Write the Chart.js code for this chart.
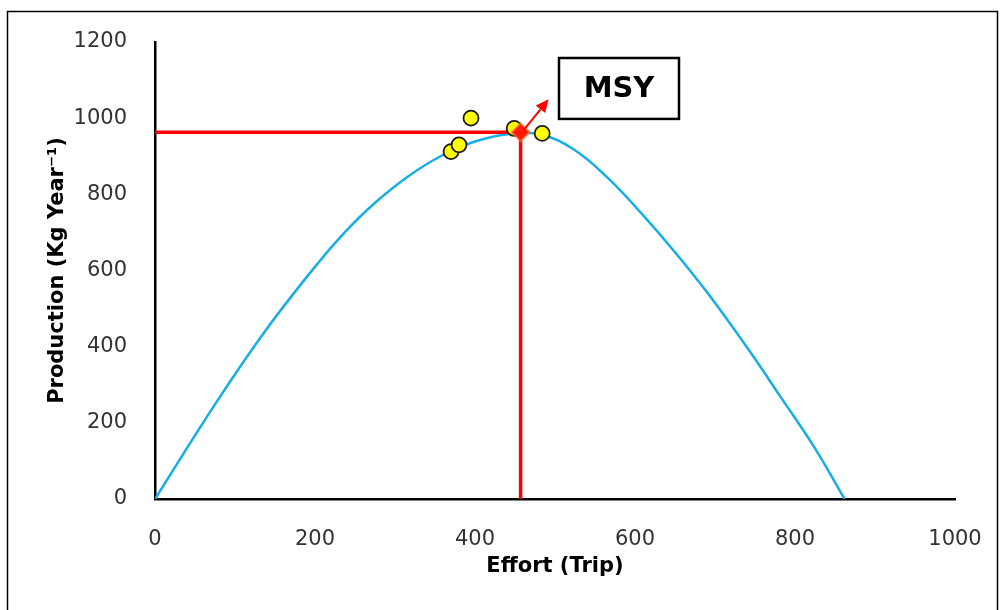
<!DOCTYPE html>
<html>
<head>
<meta charset="utf-8">
<title>MSY - Effort vs Production</title>
<script src="https://cdn.jsdelivr.net/npm/chart.js@4.4.1/dist/chart.umd.min.js"></script>
<style>
  html, body { margin: 0; padding: 0; background: #ffffff; }
  #wrap { width: 1002px; height: 610px; position: relative; }
</style>
</head>
<body>
<div id="wrap"><canvas id="msyChart" width="1002" height="610"></canvas></div>
<script>
// Fitted production curve
const curveEffort = [0, 77, 138, 200, 238, 274, 315, 357, 399, 441, 482, 524, 566, 608, 650, 691, 741, 783, 825, 862];
const curveProduction = [0, 255, 442, 610, 702, 776, 845, 900, 938, 958, 957, 917, 843, 750, 648, 540, 395, 265, 133, 0];

// Observed effort / production points
const obsEffort = [370, 380, 395, 449, 484];
const obsProduction = [912, 930, 1000, 973, 960];

// MSY point and its guide lines
const msyEffort = 457;
const msyProduction = 963;

// MSY label box and arrow (data units)
const msyBox = { x0: 505, x1: 655, y0: 1158, y1: 998, label: "MSY" };
const msyArrow = { fromX: 461, fromY: 969, toX: 492, toY: 1050 };

// Axis ticks
const xTicks = [0, 200, 400, 600, 800, 1000];
const yTicks = [0, 200, 400, 600, 800, 1000, 1200];

const tickFont = { family: "'DejaVu Sans', Verdana, sans-serif", size: 21 };
const titleFont = { family: "'DejaVu Sans', Verdana, sans-serif", size: 21, weight: "bold" };

function toPoints(xs, ys) {
  return xs.map((x, i) => ({ x: x, y: ys[i] }));
}

// Outer frame of the picture
const framePlugin = {
  id: "frame",
  beforeDraw(chart) {
    const ctx = chart.ctx;
    ctx.save();
    ctx.fillStyle = "#ffffff";
    ctx.fillRect(0, 0, chart.width, chart.height);
    ctx.strokeStyle = "#000000";
    ctx.lineWidth = 1.5;
    ctx.strokeRect(7.5, 11.5, chart.width - 12, chart.height + 20);
    ctx.restore();
  },
};

// MSY arrow and label box
const msyPlugin = {
  id: "msyLabel",
  afterDatasetsDraw(chart) {
    const ctx = chart.ctx;
    const xs = chart.scales.x;
    const ys = chart.scales.y;

    // arrow
    const ax0 = xs.getPixelForValue(msyArrow.fromX);
    const ay0 = ys.getPixelForValue(msyArrow.fromY);
    const ax1 = xs.getPixelForValue(msyArrow.toX);
    const ay1 = ys.getPixelForValue(msyArrow.toY);
    const ang = Math.atan2(ay1 - ay0, ax1 - ax0);
    const headLen = 13;
    const headW = 6;
    const bx = ax1 - headLen * Math.cos(ang);
    const by = ay1 - headLen * Math.sin(ang);
    ctx.save();
    ctx.strokeStyle = "#ff0000";
    ctx.fillStyle = "#ff0000";
    ctx.lineWidth = 2;
    ctx.beginPath();
    ctx.moveTo(ax0, ay0);
    ctx.lineTo(bx, by);
    ctx.stroke();
    ctx.beginPath();
    ctx.moveTo(ax1, ay1);
    ctx.lineTo(bx + headW * Math.sin(ang), by - headW * Math.cos(ang));
    ctx.lineTo(bx - headW * Math.sin(ang), by + headW * Math.cos(ang));
    ctx.closePath();
    ctx.fill();

    // box
    const x0 = xs.getPixelForValue(msyBox.x0);
    const x1 = xs.getPixelForValue(msyBox.x1);
    const y0 = ys.getPixelForValue(msyBox.y0);
    const y1 = ys.getPixelForValue(msyBox.y1);
    ctx.fillStyle = "#ffffff";
    ctx.fillRect(x0, y0, x1 - x0, y1 - y0);
    ctx.strokeStyle = "#000000";
    ctx.lineWidth = 2.5;
    ctx.strokeRect(x0, y0, x1 - x0, y1 - y0);
    ctx.fillStyle = "#000000";
    ctx.font = "bold 29px 'DejaVu Sans', Verdana, sans-serif";
    ctx.textAlign = "center";
    ctx.textBaseline = "middle";
    ctx.fillText(msyBox.label, (x0 + x1) / 2, (y0 + y1) / 2 + 1);
    ctx.restore();
  },
};

const ctx = document.getElementById("msyChart").getContext("2d");

new Chart(ctx, {
  type: "scatter",
  data: {
    datasets: [
      {
        label: "MSY",
        data: [{ x: msyEffort, y: msyProduction }],
        pointStyle: "rectRot",
        pointRadius: 9,
        backgroundColor: "#ff1a0a",
        borderColor: "rgba(255, 120, 40, 0.6)",
        borderWidth: 2,
        order: 0,
      },
      {
        label: "Observed",
        data: toPoints(obsEffort, obsProduction),
        pointRadius: 7.5,
        backgroundColor: "#ffff00",
        borderColor: "#1a1a1a",
        borderWidth: 1.8,
        order: 1,
      },
      {
        label: "MSY guides",
        type: "line",
        data: [
          { x: 0, y: msyProduction },
          { x: msyEffort, y: msyProduction },
          { x: msyEffort, y: 0 },
        ],
        borderColor: "#ff0000",
        borderWidth: 3.5,
        pointRadius: 0,
        tension: 0,
        fill: false,
        order: 2,
      },
      {
        label: "Model",
        type: "line",
        data: toPoints(curveEffort, curveProduction),
        borderColor: "#16aee8",
        borderWidth: 2.5,
        pointRadius: 0,
        tension: 0.4,
        fill: false,
        order: 3,
      },
    ],
  },
  options: {
    responsive: false,
    animation: false,
    layout: { padding: { top: 42, right: 47, left: 0, bottom: 0 } },
    plugins: {
      legend: { display: false },
      tooltip: { enabled: false },
    },
    scales: {
      x: {
        type: "linear",
        min: 0,
        max: 1000,
        afterBuildTicks: (scale) => {
          scale.ticks = xTicks.map((v) => ({ value: v }));
        },
        afterFit: (scale) => {
          scale.height = 111;
        },
        grid: { display: false },
        border: { display: true, color: "#000000", width: 2.5 },
        ticks: {
          font: tickFont,
          color: "#333333",
          padding: 20,
          maxRotation: 0,
          callback: (value) => String(value),
        },
        title: {
          display: true,
          text: "Effort (Trip)",
          font: titleFont,
          color: "#000000",
          padding: { top: 0, bottom: 31 },
        },
      },
      y: {
        type: "linear",
        min: 0,
        max: 1200,
        afterBuildTicks: (scale) => {
          scale.ticks = yTicks.map((v) => ({ value: v }));
        },
        afterFit: (scale) => {
          scale.width = 155;
        },
        grid: { display: false },
        border: { display: true, color: "#000000", width: 2.5 },
        ticks: {
          font: tickFont,
          color: "#333333",
          padding: 20,
          callback: (value) => String(value),
        },
        title: {
          display: true,
          text: "Production (Kg Year⁻¹)",
          font: titleFont,
          color: "#000000",
          padding: { top: 45, bottom: 0 },
        },
      },
    },
  },
  plugins: [framePlugin, msyPlugin],
});
</script>
</body>
</html>
